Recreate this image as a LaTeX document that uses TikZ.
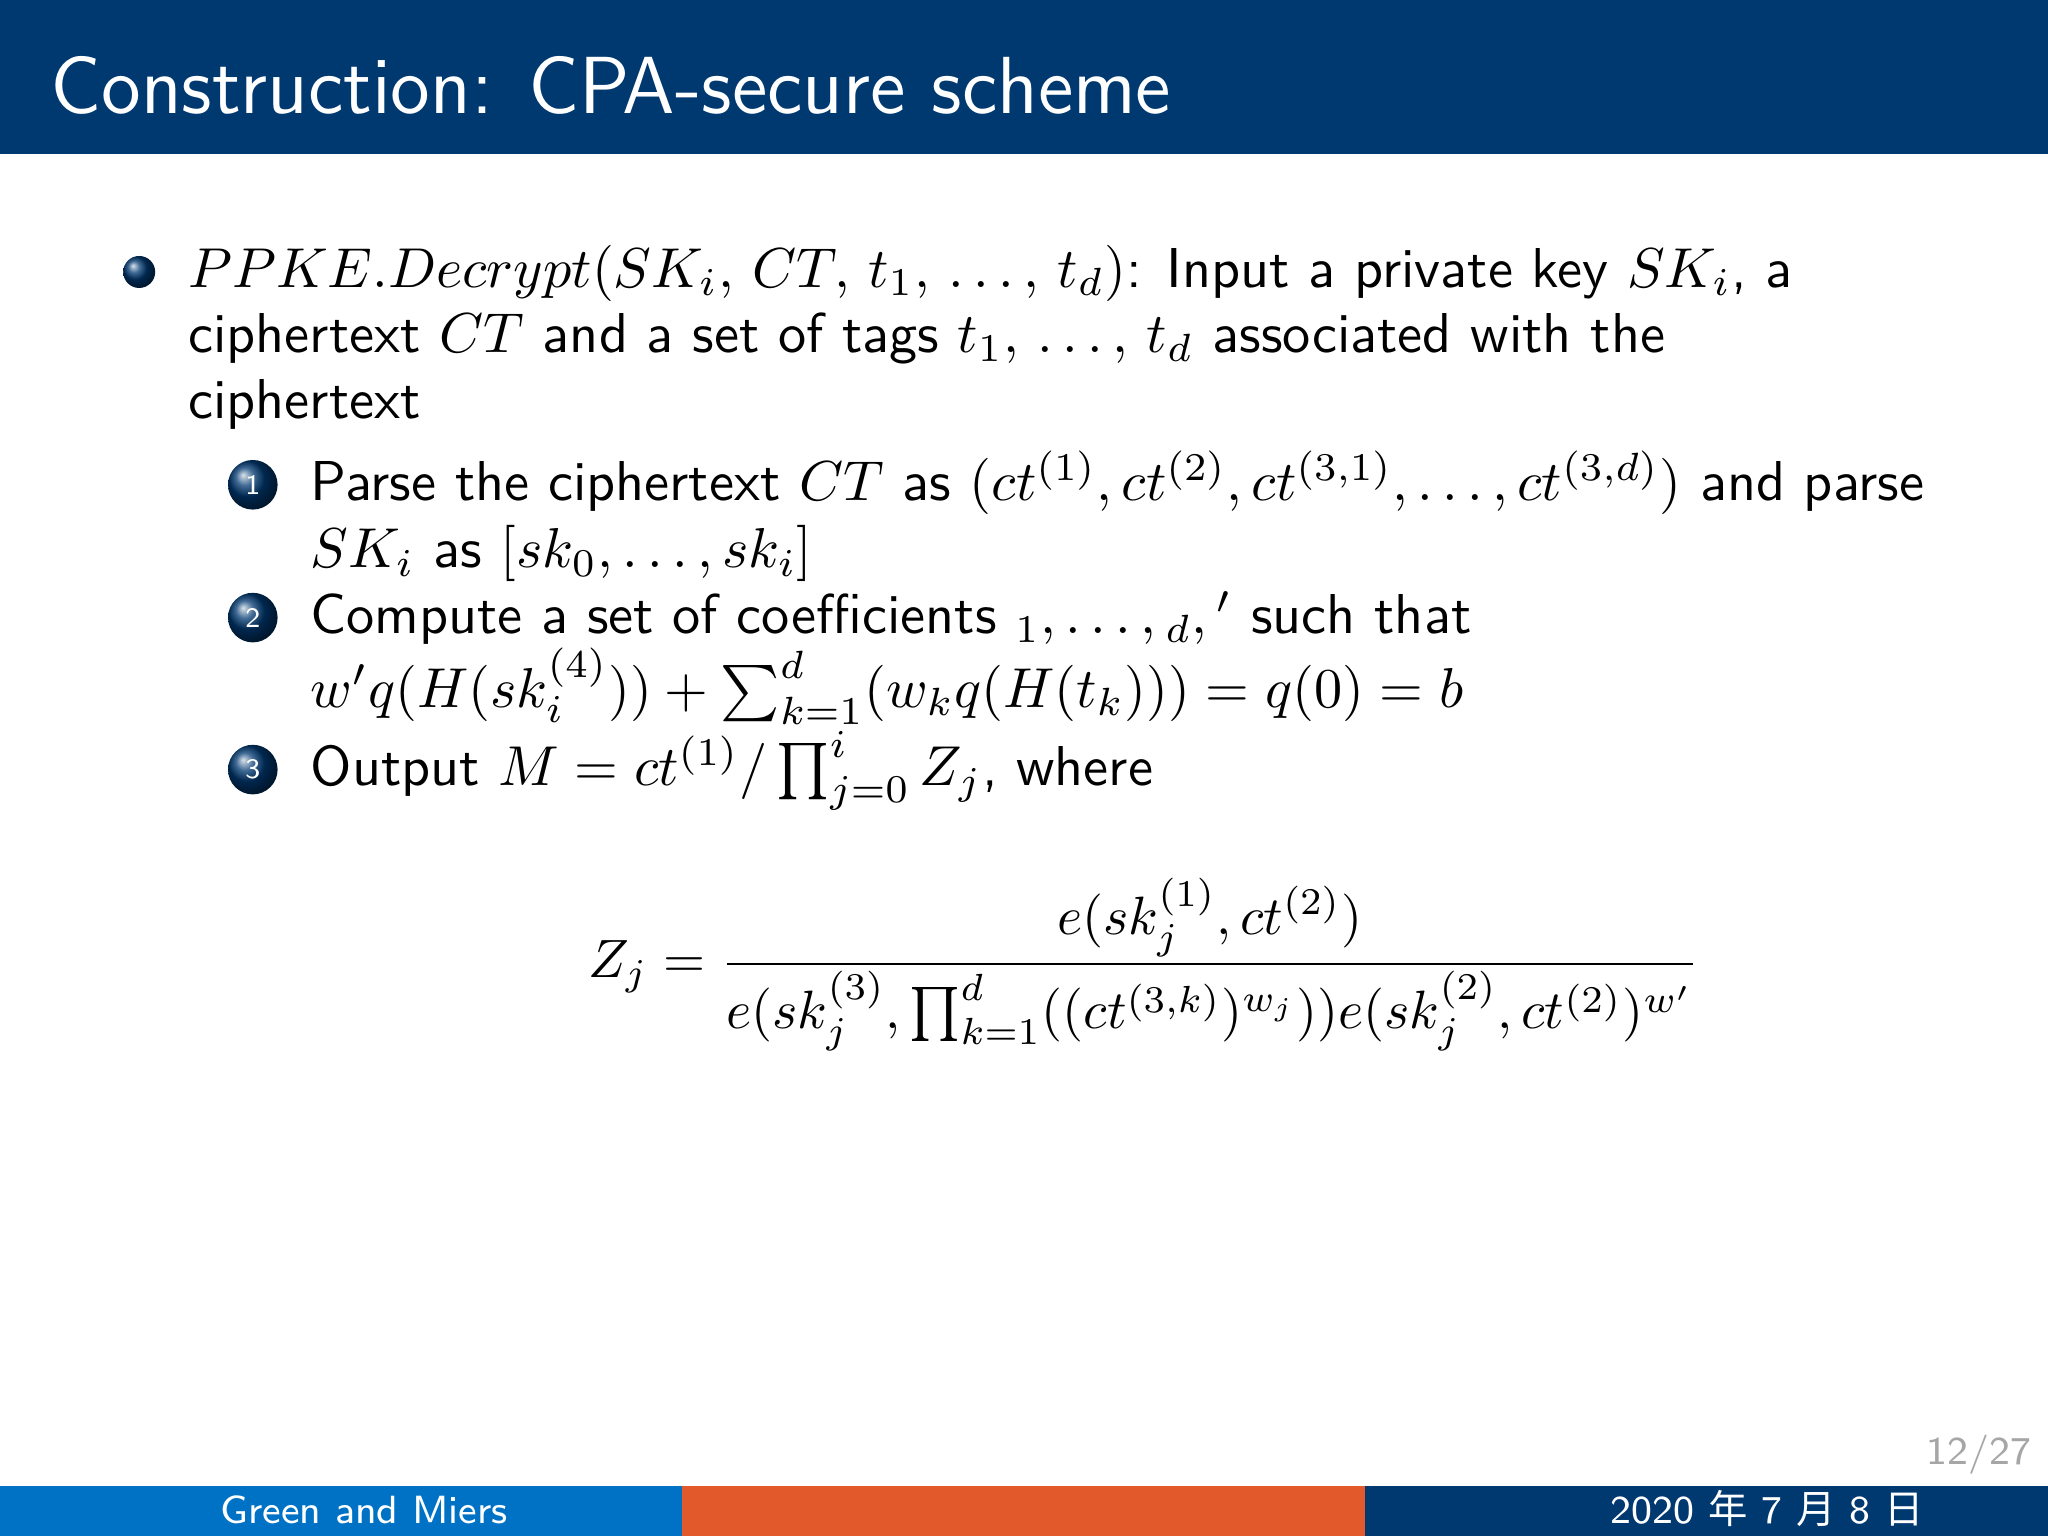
\documentclass[tikz,border=0pt]{standalone}
\usepackage{fontspec}
\newfontfamily\cjk{Noto Sans CJK SC}
\usepackage{amsmath}
\definecolor{hdr}{RGB}{0,56,112}
\definecolor{ftA}{RGB}{0,114,198}
\definecolor{ftB}{RGB}{226,90,44}
\definecolor{ftC}{RGB}{0,56,112}
\tikzset{
  txt/.style={anchor=base west,inner sep=0pt,font=\sffamily},
  ball/.style={circle,inner sep=0pt,minimum size=#1,shading=ball,ball color=hdr},
  num/.style={ball=3.1mm,text=white,font=\sffamily\tiny},
  foot/.style={font=\fontsize{7}{8}\selectfont\sffamily}
}
\begin{document}
\begin{tikzpicture}[x=1mm,y=-1mm]
\useasboundingbox (0,0) rectangle (128,96);
\fill[hdr] (0,0) rectangle (128,9.63);
\node[txt,text=white,font=\sffamily\Large] (title) at (3.1,7.1) {Construction: CPA-secure scheme};
\fill[ftA] (0,92.9) rectangle (42.6,96);
\fill[ftB] (42.6,92.9) rectangle (85.3,96);
\fill[ftC] (85.3,92.9) rectangle (128,96);
\node[txt,text=white,foot] (auth) at (13.7,95.2) {Green and Miers};
\node[txt,text=white,foot] (date) at (100.6,95.2) {2020 {\cjk 年} 7 {\cjk 月} 8 {\cjk 日}};
\node[anchor=base east,inner sep=0pt,text=gray!70,font=\sffamily\scriptsize] (pg) at (127,91.5) {12/27};
% main bullet
\node[ball=2mm] (b0) at (8.7,17) {};
\node[txt] (l1) at (11.7,17.96) {$PPKE.Decrypt(SK_i,\,CT,\,t_1,\,\ldots,\,t_d)$: Input a private key $SK_i$, a};
\node[txt] (l2) at (11.7,22.05) {ciphertext $CT$ and a set of tags $t_1,\,\ldots,\,t_d$ associated with the};
\node[txt] (l3) at (11.7,26.15) {ciphertext};
% items
\node[num] (n1) at (15.8,30.3) {1};
\node[txt] (i1a) at (19.35,31.3) {Parse the ciphertext $CT$ as $(ct^{(1)},ct^{(2)},ct^{(3,1)},\ldots,ct^{(3,d)})$ and parse};
\node[txt] (i1b) at (19.35,35.5) {$SK_i$ as $[sk_0,\ldots,sk_i]$};
\node[num] (n2) at (15.8,38.6) {2};
\node[txt] (i2a) at (19.35,39.6) {Compute a set of coefficients ${}_1,\ldots,{}_d,{}'$ such that};
\node[txt] (i2b) at (19.35,44.2) {$w'q(H(sk_i^{(4)}))+\sum_{k=1}^d(w_kq(H(t_k)))=q(0)=b$};
\node[num] (n3) at (15.8,48.1) {3};
\node[txt] (i3) at (19.35,49.1) {Output $M=ct^{(1)}/\prod_{j=0}^i Z_j$, where};
\node[anchor=base,inner sep=0pt,scale=0.96] (eq) at (71.5,61.1) {$\displaystyle Z_j=\frac{e(sk_j^{(1)},ct^{(2)})}{e(sk_j^{(3)},\prod_{k=1}^d((ct^{(3,k)})^{w_j}))e(sk_j^{(2)},ct^{(2)})^{w'}}$};
\end{tikzpicture}
\end{document}
